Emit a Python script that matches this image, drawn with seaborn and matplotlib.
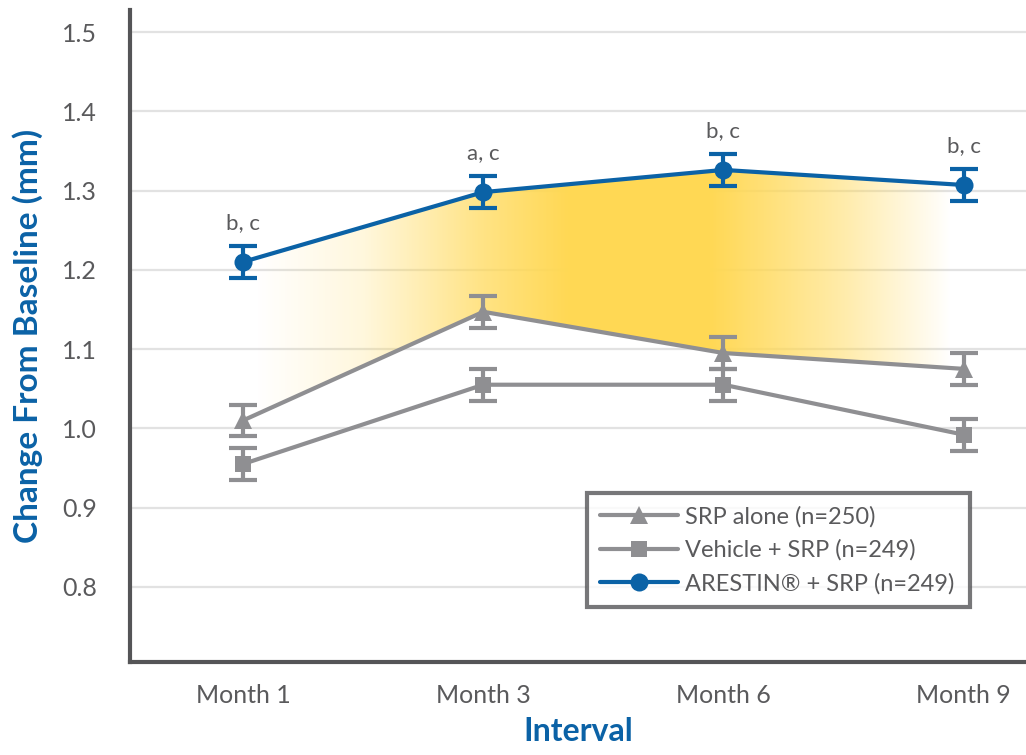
import numpy as np
import pandas as pd
import matplotlib
matplotlib.use("Agg")
import matplotlib.pyplot as plt
import seaborn as sns
from matplotlib.lines import Line2D

# ---- data ----
intervals = ["Month 1", "Month 3", "Month 6", "Month 9"]
srp_alone = [1.010, 1.147, 1.095, 1.075]
srp_alone_err = [0.020, 0.020, 0.020, 0.020]
vehicle_srp = [0.955, 1.055, 1.055, 0.992]
vehicle_srp_err = [0.020, 0.020, 0.020, 0.020]
arestin_srp = [1.210, 1.298, 1.326, 1.307]
arestin_srp_err = [0.020, 0.020, 0.020, 0.020]
sig_labels = ["b, c", "a, c", "b, c", "b, c"]
series_names = ["SRP alone (n=250)", "Vehicle + SRP (n=249)", "ARESTIN\u00ae + SRP (n=249)"]
yticks = [0.8, 0.9, 1.0, 1.1, 1.2, 1.3, 1.4, 1.5]

BLUE = "#0b62a6"
GRAY = "#8f8f92"
TXT = "#5a5a5c"
SPINE = "#555557"
GOLD = (1.0, 0.85, 0.33)

sns.set_theme(style="white")
plt.rcParams["font.family"] = ["Lato", "DejaVu Sans"]

fig = plt.figure(figsize=(10.26, 7.55), dpi=100)
ax = fig.add_axes([0.127, 0.123, 0.873, 0.864])

xpos = np.arange(len(intervals))
df = pd.DataFrame({
    "x": np.tile(xpos, 3),
    "value": srp_alone + vehicle_srp + arestin_srp,
    "err": srp_alone_err + vehicle_srp_err + arestin_srp_err,
    "group": np.repeat(series_names, len(intervals)),
})

ax.set_xlim(-0.47, 3.26)
ax.set_ylim(0.705, 1.528)

# horizontal grid
for yt in yticks:
    ax.axhline(yt, color="#e2e2e2", lw=1.6, zorder=0)

# yellow gradient band between ARESTIN + SRP and SRP alone
band = ax.fill_between(xpos, arestin_srp, srp_alone, color="none", lw=0)
gx = np.linspace(-0.47, 3.26, 600)
alpha = np.interp(gx, [0.05, 0.5, 1.0, 1.35, 1.95, 2.5, 2.95],
                  [0.0, 0.2, 0.72, 1.0, 1.0, 0.5, 0.0])
img = np.zeros((2, gx.size, 4))
img[..., 0], img[..., 1], img[..., 2] = GOLD
img[..., 3] = alpha
im = ax.imshow(img, extent=[-0.47, 3.26, 0.705, 1.528], aspect="auto",
               origin="lower", zorder=1, interpolation="bilinear")
paths = band.get_paths()
im.set_clip_path(paths[0], transform=ax.transData)

palette = {series_names[0]: GRAY, series_names[1]: GRAY, series_names[2]: BLUE}
markers = {series_names[0]: "^", series_names[1]: "s", series_names[2]: "o"}
sizes = {series_names[0]: 13, series_names[1]: 11, series_names[2]: 13}

for name in series_names:
    sub = df[df["group"] == name]
    ax.errorbar(sub["x"], sub["value"], yerr=sub["err"], fmt="none",
                ecolor=palette[name], elinewidth=3, capsize=10, capthick=3,
                zorder=3)
    sns.lineplot(data=sub, x="x", y="value", ax=ax, color=palette[name],
                 lw=3, marker=markers[name], markersize=sizes[name],
                 markeredgewidth=0, zorder=4, legend=False)

# significance labels above ARESTIN points
for xi, yv, er, lab in zip(xpos, arestin_srp, arestin_srp_err, sig_labels):
    ax.text(xi, yv + er + 0.016, lab, ha="center", va="bottom",
            fontsize=16, color=TXT)

# axes styling
ax.set_xticks(xpos)
ax.set_xticklabels(intervals, fontsize=18, color=TXT)
ax.set_yticks(yticks)
ax.set_yticklabels([f"{v:.1f}" for v in yticks], fontsize=18, color=TXT)
ax.tick_params(axis="both", length=0)
ax.tick_params(axis="x", pad=16)
ax.tick_params(axis="y", pad=24)
for side in ["top", "right"]:
    ax.spines[side].set_visible(False)
for side in ["left", "bottom"]:
    ax.spines[side].set_color(SPINE)
    ax.spines[side].set_linewidth(3)
ax.set_xlabel("Interval", fontsize=23, fontweight="bold", color=BLUE, labelpad=7)
ax.set_ylabel("Change From Baseline (mm)", fontsize=24, fontweight="bold",
              color=BLUE, labelpad=14)
ax.grid(False)

handles = [
    Line2D([], [], color=GRAY, lw=3, marker="^", markersize=13, markeredgewidth=0),
    Line2D([], [], color=GRAY, lw=3, marker="s", markersize=11, markeredgewidth=0),
    Line2D([], [], color=BLUE, lw=3, marker="o", markersize=13, markeredgewidth=0),
]
leg = ax.legend(handles, series_names, loc="lower left",
                bbox_to_anchor=(0.51, 0.084, 0.428, 0.177), mode="expand",
                fontsize=17, frameon=True, fancybox=False, handlelength=3.3,
                handletextpad=0.3, borderpad=0.55, labelspacing=0.5,
                borderaxespad=0)
leg.get_frame().set_edgecolor(SPINE)
leg.get_frame().set_linewidth(3)
for t in leg.get_texts():
    t.set_color(TXT)

fig.savefig("out.png", dpi=100)
